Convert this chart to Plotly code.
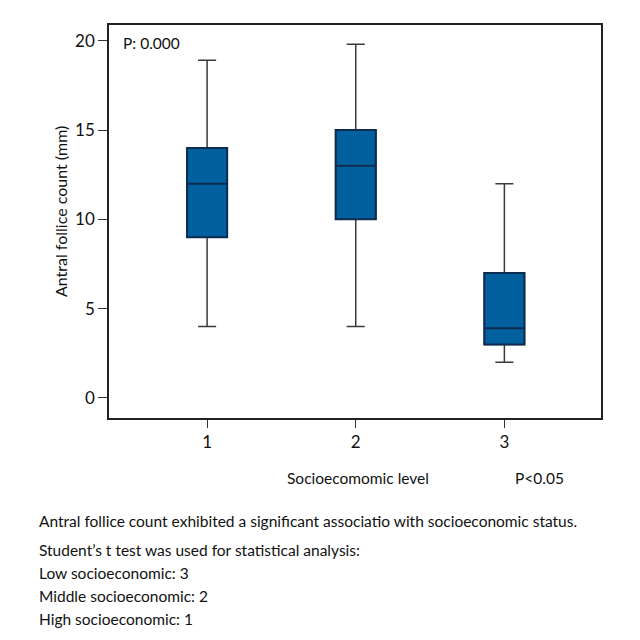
import plotly.graph_objects as go

# Data
levels = [1, 2, 3]
q1 = [9, 10, 3]
median = [12, 13, 3.9]
q3 = [14, 15, 7]
lower_whisker = [4, 4, 2]
upper_whisker = [18.9, 19.8, 12]
y_ticks = [0, 5, 10, 15, 20]
x_ticks = [1, 2, 3]

caption_lines = [
    "Antral follice count exhibited a significant associatio with socioeconomic status.",
    "Student\u2019s t test was used for statistical analysis:",
    "Low socioeconomic: 3",
    "Middle socioeconomic: 2",
    "High socioeconomic: 1",
]

FONT = "Lato, Roboto, sans-serif"
FILL = "#02609e"
EDGE = "#0d2c4f"
WHISK = "#3a3a3a"
FS = 15.5

fig = go.Figure()
# whiskers
fig.add_trace(go.Box(
    x=levels, q1=q1, median=median, q3=q3,
    lowerfence=lower_whisker, upperfence=upper_whisker,
    width=0.27, whiskerwidth=0.45,
    fillcolor=FILL, line=dict(color=WHISK, width=1.5),
    boxpoints=False, showlegend=False, hoverinfo="skip",
))
# box body on top
fig.add_trace(go.Box(
    x=levels, q1=q1, median=median, q3=q3,
    lowerfence=q1, upperfence=q3,
    width=0.27, whiskerwidth=0,
    fillcolor=FILL, line=dict(color=EDGE, width=2),
    boxpoints=False, showlegend=False,
))

OFF = 8  # page body margin
SIZE = 640 - OFF
L, R, T, B = 109 - OFF, 601 - OFF, 25 - OFF, 418 - OFF
W, H = R - L, B - T

def px(x):
    return (x - OFF - L) / W

def py(y):
    return (B - (y - OFF)) / H

annotations = [
    dict(text="P: 0.000", x=px(121), y=py(43), xanchor="left", yanchor="middle"),
    dict(text="Socioecomomic level", x=px(358), y=py(478), xanchor="center", yanchor="middle"),
    dict(text="P<0.05", x=px(539), y=py(478), xanchor="center", yanchor="middle"),
    dict(text="Antral follice count (mm)", x=px(60), y=py(212), xanchor="center",
         yanchor="middle", textangle=-90, font_size=16),
]
for text, ypos in zip(caption_lines, [521, 550, 573, 596, 619]):
    annotations.append(dict(text=text, x=px(37), y=py(ypos), xanchor="left", yanchor="middle"))
for a in annotations:
    size = a.pop("font_size", FS)
    a.update(xref="paper", yref="paper", showarrow=False,
             font=dict(family=FONT, size=size, color="#111"))

fig.update_layout(
    width=SIZE, height=SIZE,
    margin=dict(l=L, r=SIZE - R, t=T, b=SIZE - B),
    paper_bgcolor="white", plot_bgcolor="white",
    font=dict(family=FONT, size=16, color="#111"),
    boxmode="overlay",
    annotations=annotations,
    xaxis=dict(
        range=[0.34, 3.65], tickmode="array", tickvals=x_ticks,
        ticks="outside", ticklen=8, tickwidth=1.2, tickcolor="#333",
        showline=True, linecolor="#222", linewidth=1.5, mirror=True,
        showgrid=False, zeroline=False,
        tickfont=dict(family=FONT, size=17, color="#111"),
    ),
    yaxis=dict(
        range=[-1.12, 20.88], tickmode="array", tickvals=y_ticks,
        ticks="outside", ticklen=9, tickwidth=1.2, tickcolor="#333",
        showline=True, linecolor="#222", linewidth=1.5, mirror=True,
        showgrid=False, zeroline=False,
        tickfont=dict(family=FONT, size=17, color="#111"),
    ),
)

fig.write_html("out.html")
